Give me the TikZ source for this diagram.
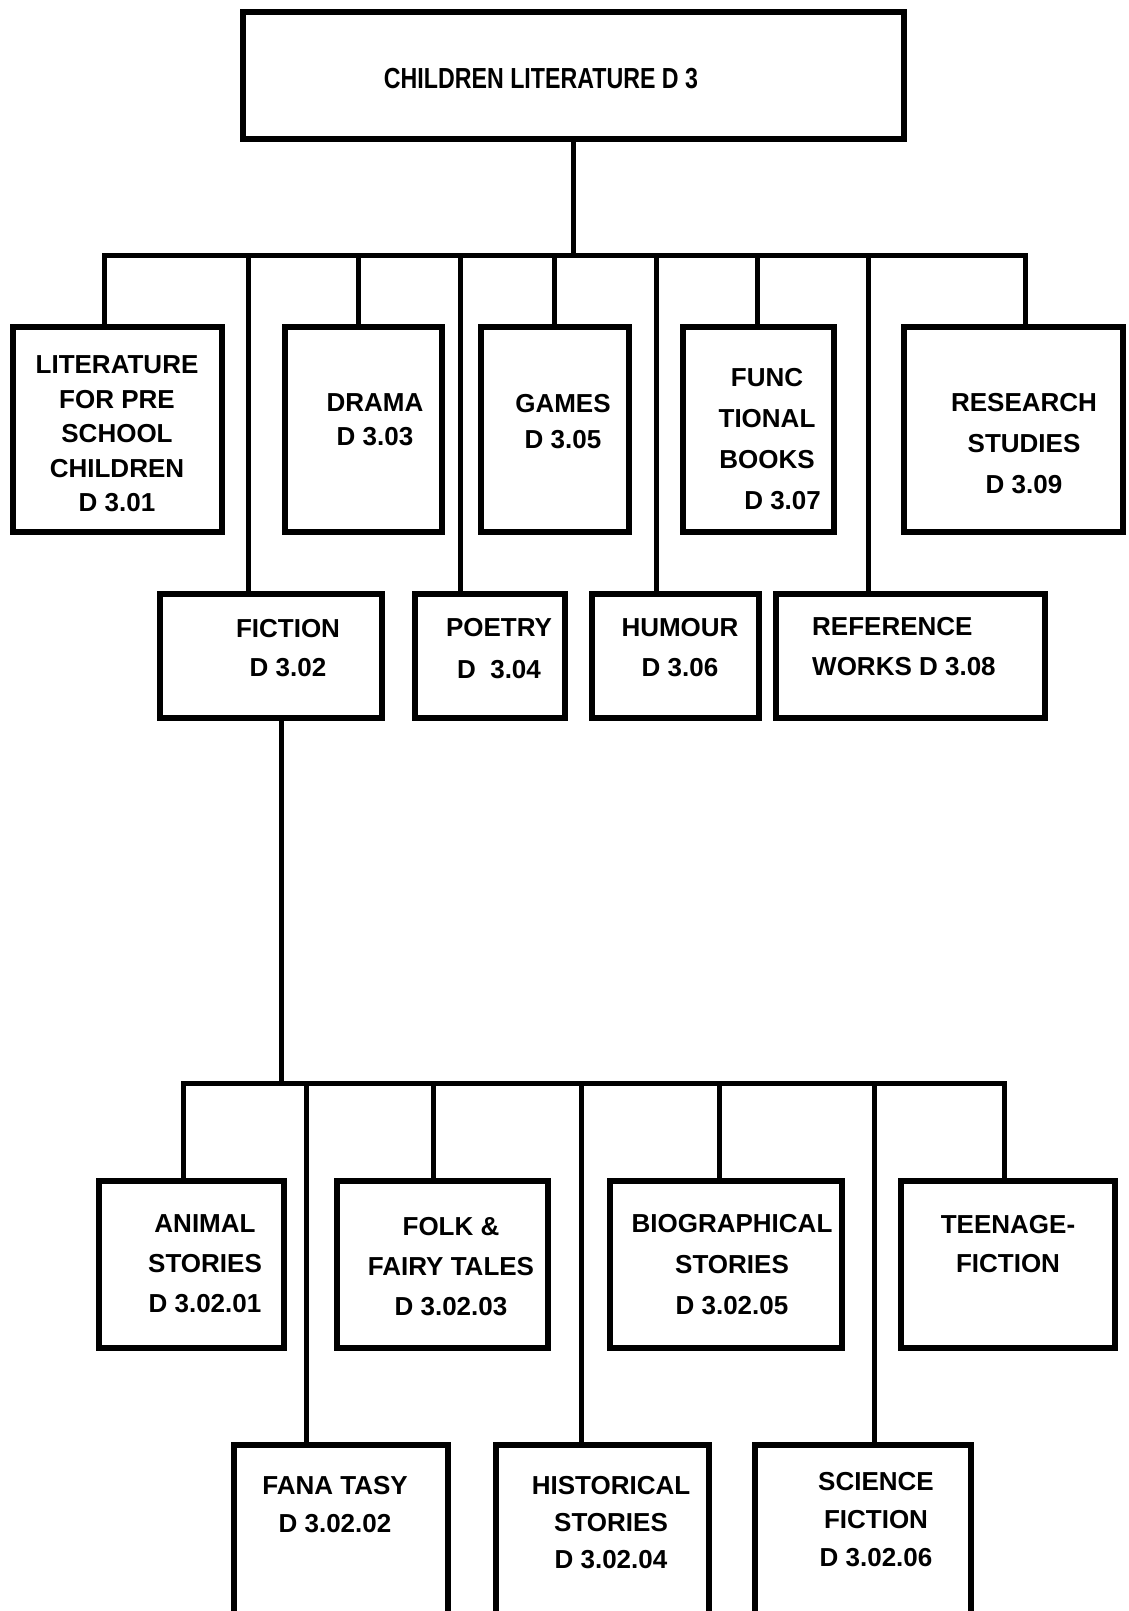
\documentclass[tikz,border=0pt]{standalone}
\usepackage{fontspec}
\setmainfont{Liberation Sans}
\usetikzlibrary{fit}
\tikzset{
  box/.style={draw=black, line width=6pt, inner sep=0pt, rectangle},
  conn/.style={draw=black, line width=5pt, line cap=rect},
  lbl/.style={inner sep=0pt, align=center, font=\fontsize{26}{#1}\selectfont\bfseries},
  lbl/.default=40,
}
\begin{document}
\begin{tikzpicture}[x=1pt,y=-1pt]
\useasboundingbox (0,0) rectangle (1128,1611);
\fill[white] (0,0) rectangle (1128,1611);
\clip (0,0) rectangle (1128,1611);

% boxes
\node[box, fit={(243,12) (904,139)}] (top) {};
\node[box, fit={(13,327) (222,532)}] (lit) {};
\node[box, fit={(285,327) (442,532)}] (drama) {};
\node[box, fit={(481,327) (629,532)}] (games) {};
\node[box, fit={(683,327) (834,532)}] (func) {};
\node[box, fit={(904,327) (1123,532)}] (research) {};
\node[box, fit={(160,594) (382,718)}] (fiction) {};
\node[box, fit={(415,594) (565,718)}] (poetry) {};
\node[box, fit={(592,594) (759,718)}] (humour) {};
\node[box, fit={(776,594) (1045,718)}] (reference) {};
\node[box, fit={(99,1181) (284,1348)}] (animal) {};
\node[box, fit={(337,1181) (548,1348)}] (folk) {};
\node[box, fit={(610,1181) (842,1348)}] (bio) {};
\node[box, fit={(901,1181) (1115,1348)}] (teen) {};
\node[box, fit={(234,1445) (448,1660)}] (fantasy) {};
\node[box, fit={(496,1445) (709,1660)}] (hist) {};
\node[box, fit={(755,1445) (971,1660)}] (scifi) {};

% labels
\node[inner sep=0pt, font=\fontsize{29}{32}\selectfont\bfseries] (ttop) at (541,79) {\scalebox{0.8}[1]{CHILDREN LITERATURE D 3}};
\node[lbl=34.5] (tlit) at (117,434) {LITERATURE\\FOR PRE\\SCHOOL\\CHILDREN\\D 3.01};
\node[lbl=34] (tdrama) at (375,420) {DRAMA\\D 3.03};
\node[lbl=36] (tgames) at (563,422) {GAMES\\D 3.05};
\node[lbl=41] (tfunc) at (767,439) {FUNC\\TIONAL\\BOOKS\\\hspace*{1.2em}D 3.07};
\node[lbl=41] (tresearch) at (1024,444) {RESEARCH\\STUDIES\\D 3.09};
\node[lbl=39] (tfiction) at (288,648) {FICTION\\D 3.02};
\node[lbl=42] (tpoetry) at (499,649) {POETRY\\D\ \ 3.04};
\node[lbl=40] (thumour) at (680,648) {HUMOUR\\D 3.06};
\node[lbl=40, align=left, anchor=west] (treference) at (812,647) {REFERENCE\\WORKS D 3.08};
\node[lbl=40] (tanimal) at (205,1264) {ANIMAL\\STORIES\\D 3.02.01};
\node[lbl=40] (tfolk) at (451,1267) {FOLK \&\\FAIRY TALES\\D 3.02.03};
\node[lbl=41] (tbio) at (732,1265) {BIOGRAPHICAL\\STORIES\\D 3.02.05};
\node[lbl=39] (tteen) at (1008,1244) {TEENAGE-\\FICTION};
\node[lbl=38] (tfantasy) at (335,1505) {FANA TASY\\D 3.02.02};
\node[lbl=37] (thist) at (611,1523) {HISTORICAL\\STORIES\\D 3.02.04};
\node[lbl=38] (tscifi) at (876,1520) {SCIENCE\\FICTION\\D 3.02.06};

% first level bus
\coordinate (busA) at (104,255);
\coordinate (busB) at (1025,255);
\draw[conn] (top.south) -- (top.south |- busA);
\draw[conn] (busA) -- (busB);
\coordinate (a1) at (104,255);
\coordinate (a2) at (248,255);
\coordinate (a3) at (358,255);
\coordinate (a4) at (460,255);
\coordinate (a5) at (554,255);
\coordinate (a6) at (656,255);
\coordinate (a7) at (757,255);
\coordinate (a8) at (868,255);
\coordinate (a9) at (1025,255);
\draw[conn] (a1) -- (a1 |- lit.north);
\draw[conn] (a2) -- (a2 |- fiction.north);
\draw[conn] (a3) -- (a3 |- drama.north);
\draw[conn] (a4) -- (a4 |- poetry.north);
\draw[conn] (a5) -- (a5 |- games.north);
\draw[conn] (a6) -- (a6 |- humour.north);
\draw[conn] (a7) -- (a7 |- func.north);
\draw[conn] (a8) -- (a8 |- reference.north);
\draw[conn] (a9) -- (a9 |- research.north);

% second level bus
\coordinate (busC) at (183,1083);
\coordinate (busD) at (1004,1083);
\coordinate (fstem) at (281,1083);
\draw[conn] (fstem |- fiction.south) -- (fstem);
\draw[conn] (busC) -- (busD);
\coordinate (c1) at (183,1083);
\coordinate (c2) at (306,1083);
\coordinate (c3) at (433,1083);
\coordinate (c4) at (581,1083);
\coordinate (c5) at (719,1083);
\coordinate (c6) at (874,1083);
\coordinate (c7) at (1004,1083);
\draw[conn] (c1) -- (c1 |- animal.north);
\draw[conn] (c2) -- (c2 |- fantasy.north);
\draw[conn] (c3) -- (c3 |- folk.north);
\draw[conn] (c4) -- (c4 |- hist.north);
\draw[conn] (c5) -- (c5 |- bio.north);
\draw[conn] (c6) -- (c6 |- scifi.north);
\draw[conn] (c7) -- (c7 |- teen.north);
\end{tikzpicture}
\end{document}
